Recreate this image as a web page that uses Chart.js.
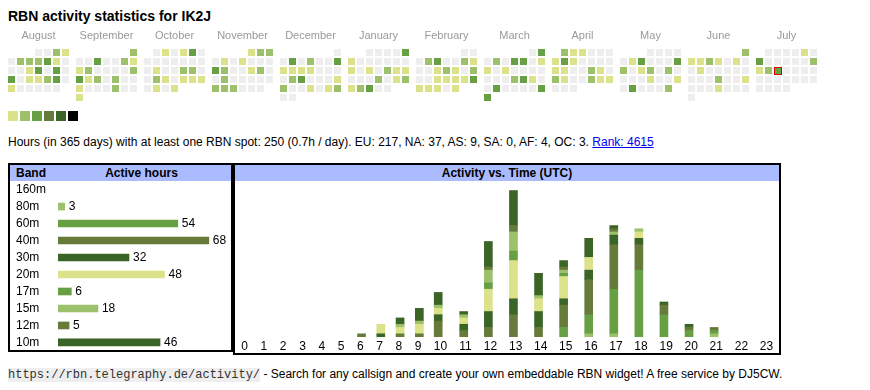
<!DOCTYPE html>
<html>
<head>
<meta charset="utf-8">
<title>RBN activity statistics for IK2J</title>
<script src="https://cdn.jsdelivr.net/npm/chart.js@4.4.0/dist/chart.umd.min.js"></script>
<style>
  body { margin: 0; width: 870px; height: 390px; position: relative; overflow: hidden; background: #fff;
         font-family: "Liberation Sans", Arial, sans-serif; color: #000; }
  .abs { position: absolute; }
  #title { left: 8px; top: 8px; font-size: 14px; line-height: 16px; font-weight: bold; }
  #calendar { left: 0; top: 26px; }
  #legend { left: 8px; top: 111px; height: 10px; }
  #legend span { float: left; width: 10px; height: 10px; margin-right: 2px; }
  #summary { left: 8px; top: 135px; font-size: 12px; line-height: 14px; white-space: nowrap; }
  #summary a { color: #0000ee; }
  .box { border: 2px solid #000; }
  #bandBox { left: 8px; top: 163px; width: 221px; height: 185px; }
  #timeBox { left: 233px; top: 163px; width: 544px; height: 188px; }
  .head { position: absolute; left: 0; top: 0; right: 0; height: 16px; line-height: 16px;
          background: #aabbff; font-size: 12px; font-weight: bold; }
  .head span { position: absolute; top: 0; }
  .box canvas { position: absolute; left: 0; top: 16px; }
  #footer { left: 8px; top: 367px; font-size: 12px; line-height: 14px; white-space: nowrap; }
  #footer code { font-family: "Liberation Mono", "Courier New", monospace; font-size: 12px; background: #eeeeee; color: #333; }
</style>
</head>
<body>
<div id="title" class="abs">RBN activity statistics for IK2J</div>
<canvas id="calendar" class="abs" width="870" height="84"></canvas>
<div id="legend" class="abs"></div>
<div id="summary" class="abs">Hours (in 365 days) with at least one RBN spot: 250 (0.7h / day). EU: 217, NA: 37, AS: 9, SA: 0, AF: 4, OC: 3. <a href="#">Rank: 4615</a></div>

<div id="bandBox" class="abs box">
  <div class="head"><span style="left:6px">Band</span><span style="left:48px;width:167px;text-align:center">Active hours</span></div>
  <canvas id="bands" width="221" height="170"></canvas>
</div>
<div id="timeBox" class="abs box">
  <div class="head" style="text-align:center">Activity vs. Time (UTC)</div>
  <canvas id="hours" width="544" height="172"></canvas>
</div>

<div id="footer" class="abs"><code>https://rbn.telegraphy.de/activity/</code> - Search for any callsign and create your own embeddable RBN widget! A free service by DJ5CW.</div>

<script>
// calendar, one string per month, one digit per day (activity level 0..6)
const calMonths = ['August', 'September', 'October', 'November', 'December', 'January',
                   'February', 'March', 'April', 'May', 'June', 'July'];
const calStart = [2024, 7]; // first month shown: August 2024
const calLevels = [
  '0021022231000130303011230100000',
  '200300211200002312020010002001',
  '0101300000000010022002101110101',
  '122010100032001200200000222000',
  '0030200311110000230001200101200',
  '0000310000001010211000201212300',
  '0002300210012102001111311101',
  '0302033011010000000231003000033',
  '211000131000011002102100211000',
  '0000013000320120200001001030002',
  '211210100100000000200100010000',
  '0000103000002123000000000000000'
];
const calToday = [11, 16]; // July 16th

// bands table
const bands = ['160m', '80m', '60m', '40m', '30m', '20m', '17m', '15m', '12m', '10m'];
const bandHours = [0, 3, 54, 68, 32, 48, 6, 18, 5, 46];

// activity per hour of day (UTC), one array per band
const hourLabels = ['0', '1', '2', '3', '4', '5', '6', '7', '8', '9', '10', '11',
                    '12', '13', '14', '15', '16', '17', '18', '19', '20', '21', '22', '23'];
const h160 = [0,0,0,0,0,0,0,0,0,0,0,0,0,0,0,0,0,0,0,0,0,0,0,0];
const h80  = [0,0,0,0,0,0,0,0,0,0,0,0,0,0,0,0,1,1,0,0,0,1,0,0];
const h60  = [0,0,0,0,0,0,0,0,0,0,0,0,0,0,0,3,6,14,21,7,2,1,0,0];
const h40  = [0,0,0,0,0,0,1,0,1,1,5,2,3,7,3,7,11,14,8,3,1,1,0,0];
const h30  = [0,0,0,0,0,0,0,1,0,0,2,2,5,5,5,2,3,3,2,1,1,0,0,0];
const h20  = [0,0,0,0,0,0,0,3,2,3,2,2,7,12,4,7,4,0,2,0,0,0,0,0];
const h17  = [0,0,0,0,0,0,0,0,0,0,0,0,2,3,0,1,0,0,0,0,0,0,0,0];
const h15  = [0,0,0,0,0,0,0,0,1,1,1,1,4,6,1,1,0,1,1,0,0,0,0,0];
const h12  = [0,0,0,0,0,0,0,0,0,0,0,0,1,2,0,1,0,1,0,0,0,0,0,0];
const h10  = [0,0,0,0,0,0,0,0,2,4,4,1,8,11,7,2,6,1,0,0,0,0,0,0];
const hourly = [h160, h80, h60, h40, h30, h20, h17, h15, h12, h10];

const levelColors = ['#eeeeee', '#dbe28a', '#9dc06b', '#67a043', '#667a3a', '#3b6427', '#000000'];
const bandColors = ['#dbe28a', '#9dc06b', '#67a043', '#667a3a', '#3b6427',
                    '#dbe28a', '#67a043', '#9dc06b', '#667a3a', '#3b6427'];

const FONT = '"Liberation Sans", Arial, sans-serif';
Chart.defaults.font.family = FONT;
Chart.defaults.font.size = 12;
Chart.defaults.color = '#000';
Chart.defaults.animation = false;
Chart.defaults.events = [];
Chart.defaults.plugins.legend.display = false;
Chart.defaults.plugins.tooltip.enabled = false;

// ---- calendar heat map
const CELL = 9;                  // px per cell
const BLOCK = 7 + 5 / CELL;      // month block width, in cells
const cells = [];
calLevels.forEach((days, m) => {
  const yr = calStart[0] + Math.floor((calStart[1] + m) / 12);
  const mo = (calStart[1] + m) % 12;
  const lead = (new Date(Date.UTC(yr, mo, 1)).getUTCDay() + 6) % 7; // monday first
  [...days].forEach((lv, d) => {
    const p = lead + d;
    cells.push({x: m * BLOCK + p % 7, y: Math.floor(p / 7), level: +lv,
                today: m === calToday[0] && d + 1 === calToday[1]});
  });
});

// crisp square point styles, 7px; "today" gets a red frame
function square(color, frame) {
  const c = document.createElement('canvas');
  c.width = c.height = frame ? 9 : 7;
  const g = c.getContext('2d');
  if (frame) {
    g.fillStyle = frame; g.fillRect(1, 1, 8, 8);
    g.fillStyle = color; g.fillRect(2, 2, 6, 6);
  } else {
    g.fillStyle = color; g.fillRect(0, 0, 7, 7);
  }
  return c;
}
const cellStyles = levelColors.map(c => square(c));
const todayStyles = levelColors.map(c => square(c, '#e00000'));

const monthLabels = {
  id: 'monthLabels',
  afterDatasetsDraw(chart) {
    const {ctx, scales: {x, y}} = chart;
    ctx.save();
    ctx.font = '11px ' + FONT;
    ctx.fillStyle = '#999999';
    ctx.textAlign = 'center';
    calMonths.forEach((name, m) => ctx.fillText(name, x.getPixelForValue(m * BLOCK + 3), y.getPixelForValue(-1.5)));
    ctx.restore();
  }
};

new Chart(document.getElementById('calendar'), {
  type: 'scatter',
  data: {datasets: [{
    data: cells,
    pointStyle: c => (c.raw.today ? todayStyles : cellStyles)[c.raw.level],
    pointRadius: 4,
    pointBorderWidth: 0
  }]},
  options: {
    responsive: false,
    layout: {padding: 0, autoPadding: false},
    scales: {
      x: {type: 'linear', display: false, min: -11.5 / CELL, max: (870 - 11.5) / CELL},
      y: {type: 'linear', display: false, reverse: true, min: -26.5 / CELL, max: (84 - 26.5) / CELL}
    }
  },
  plugins: [monthLabels]
});

const legend = document.getElementById('legend');
levelColors.slice(1).forEach(c => {
  const s = document.createElement('span');
  s.style.background = c;
  legend.appendChild(s);
});

// ---- active hours per band
const valueLabels = {
  id: 'valueLabels',
  afterDatasetsDraw(chart) {
    const {ctx} = chart;
    ctx.save();
    ctx.font = '12px ' + FONT;
    ctx.fillStyle = '#000';
    ctx.textBaseline = 'middle';
    chart.getDatasetMeta(0).data.forEach((bar, i) => {
      if (bandHours[i]) ctx.fillText(bandHours[i], bar.x + 4, bar.y + 0.5);
    });
    ctx.restore();
  }
};

new Chart(document.getElementById('bands'), {
  type: 'bar',
  data: {labels: bands, datasets: [{data: bandHours.map(v => v || null), backgroundColor: bandColors, barThickness: 7}]},
  options: {
    indexAxis: 'y',
    responsive: false,
    layout: {padding: {left: 6}},
    scales: {
      x: {display: false, min: 0, max: 78},
      y: {
        grid: {display: false, drawTicks: false},
        border: {display: false},
        ticks: {crossAlign: 'far', padding: 0, autoSkip: false, font: {lineHeight: 0.01}},
        afterFit: s => { s.width = 42; }
      }
    }
  },
  plugins: [valueLabels]
});

// ---- activity vs. time, stacked by band
// hour columns are as wide as their label plus an equal share of padding
const TIME_W = 544, DIGIT = 5.8, BAR_W = 8;
const pad = (TIME_W - hourLabels.join('').length * DIGIT) / hourLabels.length;
const mctx = document.createElement('canvas').getContext('2d');
mctx.font = '12px ' + FONT;
const labelX = [], barX = [];
let acc = 0;
hourLabels.forEach(l => {
  const w = l.length * DIGIT + pad;
  const c = acc + w / 2;
  labelX.push(c);
  barX.push(c - mctx.measureText(l).width / 2 + BAR_W / 2 + 0.5);
  acc += w;
});

new Chart(document.getElementById('hours'), {
  type: 'bar',
  data: {datasets: bands.map((b, i) => ({
    label: b,
    data: hourly[i].map((v, h) => ({x: barX[h], y: v || null})),
    backgroundColor: bandColors[i],
    barThickness: BAR_W
  }))},
  options: {
    responsive: false,
    layout: {padding: 0},
    scales: {
      x: {
        type: 'linear', min: 0, max: TIME_W, stacked: true, offset: false,
        grid: {display: false, drawTicks: false},
        border: {display: false},
        afterBuildTicks: s => { s.ticks = labelX.map(v => ({value: v})); },
        ticks: {autoSkip: false, maxRotation: 0, padding: 2, callback: (v, i) => hourLabels[i]},
        afterFit: s => { s.height = 16; }
      },
      y: {stacked: true, display: false, min: 0, max: 49}
    }
  }
});
</script>
</body>
</html>
